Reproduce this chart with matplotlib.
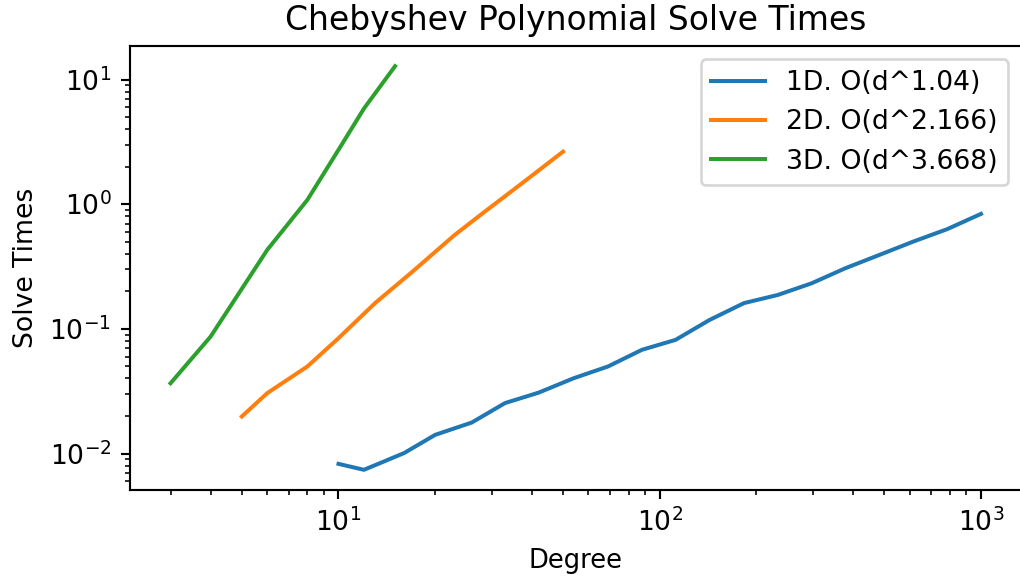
import matplotlib
matplotlib.use("Agg")
import matplotlib.pyplot as plt

# degrees and solve times
deg_1d = [10, 12, 16, 20, 26, 33, 42, 54, 69, 88, 112, 143, 183, 233, 297, 379, 483, 615, 784, 1000]
times_1d = [0.00826, 0.00740, 0.01008, 0.01412, 0.01773, 0.0254, 0.0308, 0.0402, 0.0499, 0.0679,
            0.0816, 0.118, 0.161, 0.187, 0.232, 0.307, 0.392, 0.501, 0.630, 0.836]

deg_2d = [5, 6, 8, 10, 13, 17, 23, 29, 38, 50]
times_2d = [0.0198, 0.0305, 0.0499, 0.0842, 0.161, 0.288, 0.567, 0.90, 1.53, 2.64]

deg_3d = [3, 4, 6, 8, 10, 12, 15]
times_3d = [0.0366, 0.0868, 0.430, 1.083, 2.73, 5.85, 12.8]

labels = ["1D. O(d^1.04)", "2D. O(d^2.166)", "3D. O(d^3.668)"]

DPI = 192
fig = plt.figure(figsize=(1020 / DPI, 576 / DPI), dpi=DPI)
ax = fig.add_axes([130 / 1020, 86 / 576, 891.5 / 1020, 444 / 576])

ax.plot(deg_1d, times_1d, label=labels[0])
ax.plot(deg_2d, times_2d, label=labels[1])
ax.plot(deg_3d, times_3d, label=labels[2])

ax.set_xscale("log")
ax.set_yscale("log")
ax.set_title("Chebyshev Polynomial Solve Times", fontsize=12.4)
ax.set_xlabel("Degree", fontsize=9.7)
ax.set_ylabel("Solve Times")
ax.legend(loc="upper right")

fig.savefig("out.png", dpi=DPI)
